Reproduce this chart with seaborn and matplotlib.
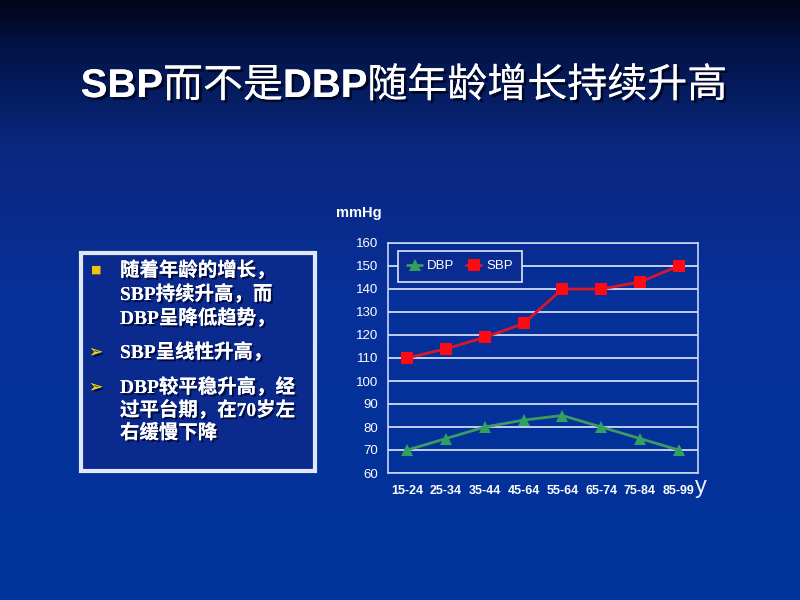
import numpy as np
import pandas as pd
import matplotlib
matplotlib.use("Agg")
import matplotlib.pyplot as plt
import matplotlib.patheffects as pe
from matplotlib.colors import LinearSegmentedColormap
from matplotlib.patches import Rectangle
from matplotlib.lines import Line2D
import seaborn as sns

# ---- data ----
categories = ["15-24", "25-34", "35-44", "45-64", "55-64", "65-74", "75-84", "85-99"]
dbp = [70, 75, 80, 83, 85, 80, 75, 70]
sbp = [110, 114, 119, 125, 140, 140, 143, 150]
y_ticks = [60, 70, 80, 90, 100, 110, 120, 130, 140, 150, 160]

title_parts = ["SBP", "而不是", "DBP", "随年龄增长持续升高"]
bullet_lines = [
    ("■", ["随着年龄的增长，", "SBP持续升高，而", "DBP呈降低趋势，"]),
    ("➢", ["SBP呈线性升高，"]),
    ("➢", ["DBP较平稳升高，经", "过平台期，在70岁左", "右缓慢下降"]),
]

sns.set_theme(style="white")
plt.rcParams["font.family"] = ["Liberation Sans", "Noto Sans CJK SC", "DejaVu Sans"]

fig = plt.figure(figsize=(8, 6), dpi=100)

# background gradient
bg = fig.add_axes([0, 0, 1, 1], zorder=-10)
cmap = LinearSegmentedColormap.from_list(
    "bg", [(0.0, "#04041a"), (0.08, "#021448"), (0.25, "#0a2880"),
           (0.5, "#07309a"), (1.0, "#00339a")])
grad = np.linspace(0, 1, 300).reshape(-1, 1)
bg.imshow(grad, aspect="auto", cmap=cmap, extent=[0, 1, 0, 1], origin="upper")
bg.set_axis_off()

# title drawn in pieces: bold Latin, medium CJK
shadow = [pe.withSimplePatchShadow(offset=(2, -2), shadow_rgbFace="#000010", alpha=0.7), pe.Normal()]
renderer = fig.canvas.get_renderer()
pieces = []
for i, part in enumerate(title_parts):
    latin = (i % 2 == 0)
    t = fig.text(0, 1 - 86 / 600, part, ha="left", va="center", fontsize=28.8, color="white",
                 fontweight="bold" if latin else "medium",
                 family=["Liberation Sans"] if latin else ["Noto Sans CJK SC"],
                 path_effects=shadow)
    pieces.append(t)
widths = [p.get_window_extent(renderer).width for p in pieces]
total = sum(widths)
x = 404 - total / 2
for p, w in zip(pieces, widths):
    p.set_x(x / 800)
    x += w

# text box
fig.patches.append(Rectangle((0.101, 0.215), 0.293, 0.363, transform=fig.transFigure,
                             facecolor="#0a2a8e", edgecolor="#dfe6f5", linewidth=3, zorder=1))
line_ys = [[270, 294, 318], [352], [387, 410, 433]]
txt_shadow = [pe.withSimplePatchShadow(offset=(1.5, -1.5), shadow_rgbFace="#000020", alpha=0.7), pe.Normal()]
for (sym, lines), ys in zip(bullet_lines, line_ys):
    if sym == "■":
        fig.text(96 / 800, 1 - ys[0] / 600, sym, ha="center", va="center", fontsize=8,
                 color="#f2c200", family=["DejaVu Sans"], zorder=3)
    else:
        fig.text(96 / 800, 1 - ys[0] / 600, sym, ha="center", va="center", fontsize=12,
                 color="#f5d400", fontweight="bold", family=["DejaVu Sans"], zorder=3,
                 path_effects=txt_shadow)
    for ln, yy in zip(lines, ys):
        fig.text(120 / 800, 1 - yy / 600, ln, ha="left", va="center", fontsize=14,
                 color="white", fontweight="bold",
                 family=["Liberation Serif", "Noto Sans CJK SC"], zorder=3,
                 path_effects=txt_shadow)

# chart
ax = fig.add_axes([388 / 800, 1 - 473 / 600, 310 / 800, 230 / 600], zorder=2)
ax.set_facecolor("none")
df = pd.DataFrame({
    "age": categories * 2,
    "value": dbp + sbp,
    "series": ["DBP"] * len(categories) + ["SBP"] * len(categories),
})
palette = {"DBP": "#3c9a62", "SBP": "#d8182a"}
sns.lineplot(data=df, x="age", y="value", hue="series", style="series",
             markers={"DBP": "^", "SBP": "s"}, dashes=False, palette=palette,
             linewidth=2, markersize=8, markeredgewidth=0, sort=False, ax=ax, legend=False)
mk = {"DBP": "#2fa060", "SBP": "#ff0a14"}
for line, s in zip(ax.get_lines(), ["DBP", "SBP"]):
    line.set_markerfacecolor(mk[s])

ax.set_xlim(-0.5, len(categories) - 0.5)
ax.set_ylim(60, 160)
ax.set_yticks(y_ticks)
ax.yaxis.grid(True, color="#d0dcf6", linewidth=1.3)
ax.xaxis.grid(False)
for sp in ax.spines.values():
    sp.set_color("#c8d6f4")
    sp.set_linewidth(1.2)
ax.set_xticks(range(len(categories)))
ax.set_xticklabels(categories)
ax.set_xticks(np.arange(0.5, len(categories) - 1, 1.0), minor=True)
ax.tick_params(axis="x", which="major", length=0, pad=9, labelsize=9, colors="white")
ax.tick_params(axis="x", which="minor", direction="in", length=3, color="#c8d6f4", width=1)
ax.tick_params(axis="y", length=0, pad=7, labelsize=9.5, colors="white")
for lab in ax.get_xticklabels() + ax.get_yticklabels():
    lab.set_family(["Liberation Sans Narrow", "Liberation Sans"])
for lab in ax.get_xticklabels():
    lab.set_fontweight("bold")
ax.set_xlabel("")
ax.set_ylabel("")

handles = [Line2D([], [], color="#3c9a62", marker="^", markerfacecolor="#2fa060", markeredgewidth=0, markersize=8, linewidth=2),
           Line2D([], [], color="#d8182a", marker="s", markerfacecolor="#ff0a14", markeredgewidth=0, markersize=8, linewidth=2)]
leg = ax.legend(handles, ["DBP", "SBP"], loc="upper left", bbox_to_anchor=(0.032, 0.966),
                ncol=2, frameon=True, fancybox=False, handlelength=1.15, handletextpad=0.35,
                columnspacing=0.9, borderpad=0.7, borderaxespad=0.0,
                prop={"family": ["Liberation Sans Narrow", "Liberation Sans"], "size": 9.5})
leg.get_frame().set_facecolor("#0a2c90")
leg.get_frame().set_alpha(1.0)
leg.get_frame().set_edgecolor("#dfe6f5")
leg.get_frame().set_linewidth(1.2)
for t in leg.get_texts():
    t.set_color("white")

fig.text(359 / 800, 1 - 213 / 600, "mmHg", ha="center", va="center", fontsize=10.5,
         fontweight="bold", color="white", family=["Liberation Sans"])
fig.text(701 / 800, 1 - 487 / 600, "y", ha="center", va="center", fontsize=17,
         color="#eef0ff", family=["Liberation Sans"])

fig.savefig("out.png", dpi=100)
